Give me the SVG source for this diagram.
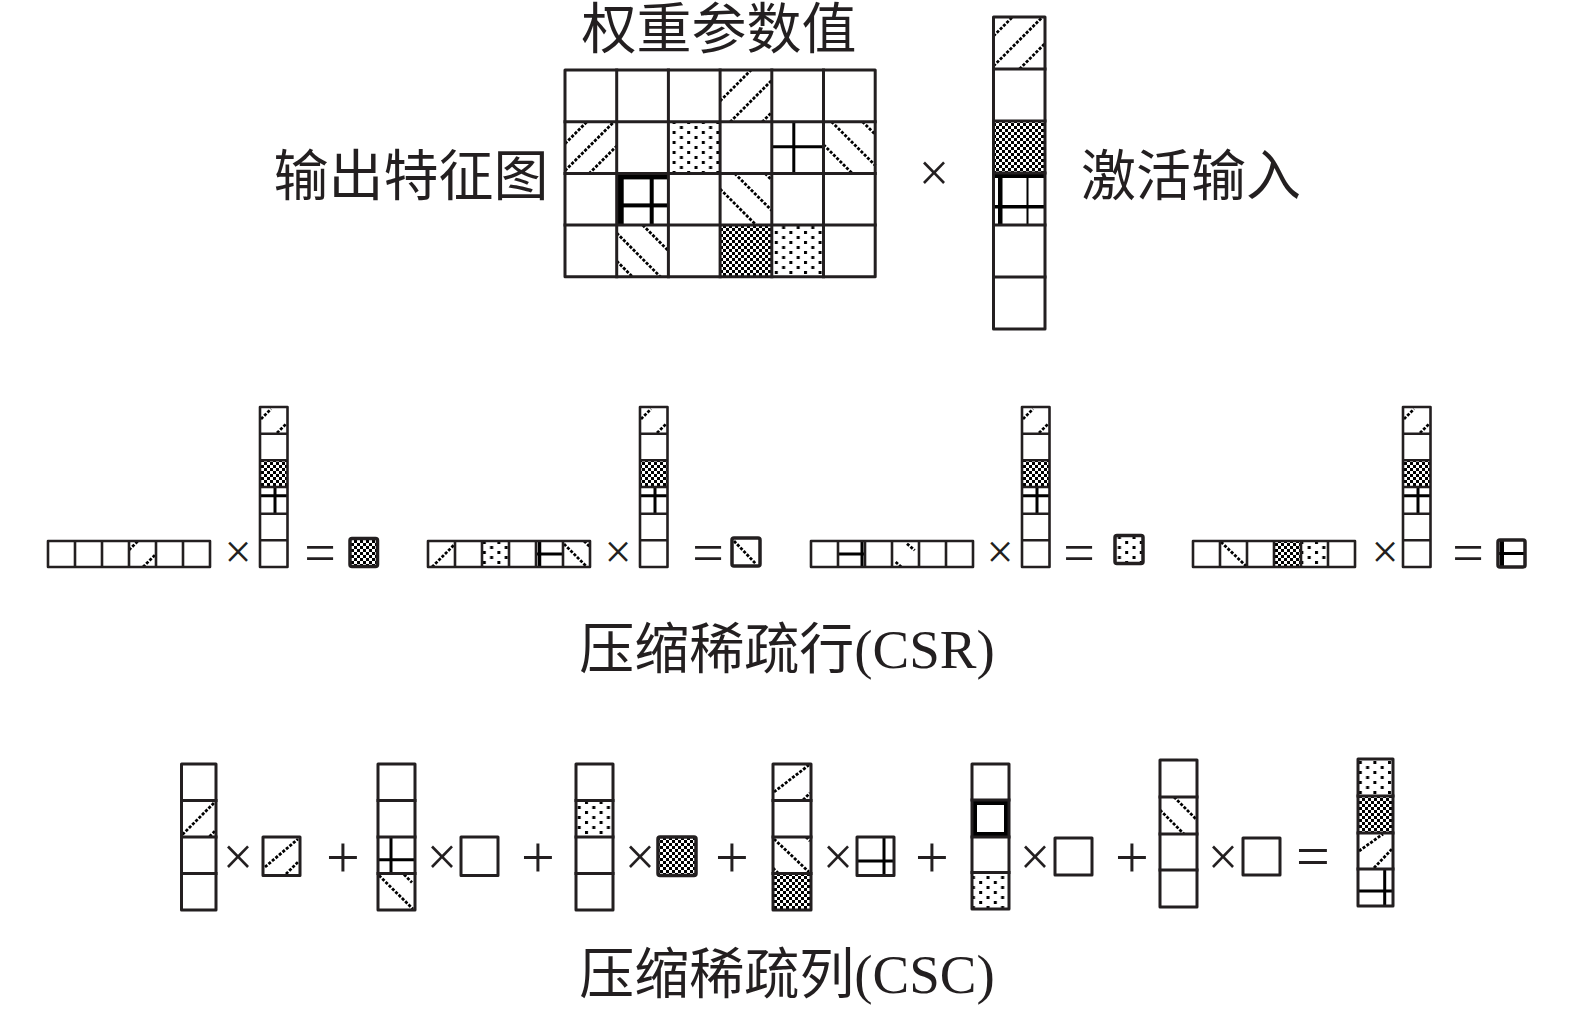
<svg xmlns="http://www.w3.org/2000/svg" width="1575" height="1013" viewBox="0 0 1575 1013">
<defs>
<pattern id="checker" patternUnits="userSpaceOnUse" width="6" height="6"><rect x="0" y="0" width="3" height="3" fill="#000"/><rect x="3" y="3" width="3" height="3" fill="#000"/></pattern>
<pattern id="dots" patternUnits="userSpaceOnUse" width="14.6" height="10"><rect x="1" y="1" width="3" height="3" fill="#000"/><rect x="8.3" y="6" width="3" height="3" fill="#000"/></pattern>
</defs>
<style>
.g{fill:none;stroke:#231f20;stroke-width:3;stroke-linejoin:round;stroke-linecap:square}
.gs{fill:none;stroke:#231f20;stroke-width:2.6;stroke-linejoin:round}
.res{stroke:#231f20;stroke-width:3.5;stroke-linejoin:round}
.h{fill:none;stroke:#000;stroke-width:2.8;stroke-dasharray:3 1.6}
.b{fill:none;stroke:#000;stroke-width:3}
.band{fill:#000}
.lbl{font-family:"Liberation Serif","Noto Sans CJK SC",serif;font-size:55px;fill:#231f20;text-anchor:middle}
.op{font-family:"Liberation Serif",serif;fill:#231f20;text-anchor:middle}
</style>
<rect width="1575" height="1013" fill="#fff"/>

<g id="labels">
<text class="lbl" x="719" y="48">权重参数值</text>
<text class="lbl" x="411" y="195">输出特征图</text>
<text class="lbl" x="1191" y="195">激活输入</text>
<text class="lbl" x="787" y="668">压缩稀疏行(CSR)</text>
<text class="lbl" x="787" y="993">压缩稀疏列(CSC)</text>
</g>

<g id="weight-matrix">
<rect x="668.4" y="121.7" width="51.7" height="51.7" fill="url(#dots)"/>
<rect x="771.8" y="225.1" width="51.7" height="51.7" fill="url(#dots)"/>
<rect x="720.1" y="225.1" width="51.7" height="51.7" fill="url(#checker)"/>
<path class="h" transform="translate(720.1,70)" d="M0,31L31,0M10,52L52,10M42,52L52,42"/>
<path class="h" transform="translate(565,121.7)" d="M0,22L22,0M0,49L49,0M24,52L52,24"/>
<path class="b" transform="translate(771.8,121.7)" d="M22,0V52M0,25H52"/>
<path class="h" transform="translate(823.5,121.7)" d="M0,23L29,52M8,0L52,44M39,0L52,13"/>
<g class="band" transform="translate(616.7,173.4)"><rect x="0" y="0" width="52" height="6"/><rect x="0" y="0" width="7" height="52"/><rect x="33" y="0" width="4" height="52"/><rect x="0" y="30" width="52" height="4"/></g>
<path class="h" transform="translate(720.1,173.4)" d="M0,15.6L36.4,52M14.6,0L52,37.4M45,0L52,7"/>
<path class="h" transform="translate(616.7,225.1)" d="M0,36L16,52M0,8L44,52M26,0L52,26"/>
<rect class="g" x="565" y="70" width="310.2" height="206.8"/>
<path class="g" d="M616.7,70V276.8M668.4,70V276.8M720.1,70V276.8M771.8,70V276.8M823.5,70V276.8M565,121.7H875.2M565,173.4H875.2M565,225.1H875.2"/>
</g>

<g id="activation-input">
<path class="h" transform="translate(993.5,17)" d="M0,19L19,0M0,49L49,0M26,52L52,26"/>
<rect x="993.5" y="121" width="51.5" height="52" fill="url(#checker)"/>
<g class="band"><rect x="993.5" y="173" width="51.5" height="5"/><rect x="998" y="173" width="4.5" height="52"/><rect x="1026.5" y="173" width="2" height="52"/><rect x="993.5" y="205" width="51.5" height="3.5"/></g>
<rect class="g" x="993.5" y="17" width="51.5" height="312"/>
<path class="g" d="M993.5,69H1045M993.5,121H1045M993.5,173H1045M993.5,225H1045M993.5,277H1045"/>
</g>

<g id="operators">
<text class="op" x="934" y="191" font-size="54">×</text>
<text class="op" x="238" y="568" font-size="48">×</text>
<text class="op" x="320" y="572" font-size="56">=</text>
<text class="op" x="618" y="568" font-size="48">×</text>
<text class="op" x="708" y="572" font-size="56">=</text>
<text class="op" x="1000" y="568" font-size="48">×</text>
<text class="op" x="1079" y="572" font-size="56">=</text>
<text class="op" x="1385" y="568" font-size="48">×</text>
<text class="op" x="1468" y="572" font-size="56">=</text>
<text class="op" x="238" y="875" font-size="54">×</text>
<text class="op" x="343" y="877" font-size="60">+</text>
<text class="op" x="442" y="875" font-size="54">×</text>
<text class="op" x="538" y="877" font-size="60">+</text>
<text class="op" x="640" y="875" font-size="54">×</text>
<text class="op" x="732" y="877" font-size="60">+</text>
<text class="op" x="838" y="875" font-size="54">×</text>
<text class="op" x="932" y="877" font-size="60">+</text>
<text class="op" x="1035" y="875" font-size="54">×</text>
<text class="op" x="1132" y="877" font-size="60">+</text>
<text class="op" x="1223" y="875" font-size="54">×</text>
<text class="op" x="1313" y="876" font-size="60">=</text>
</g>

<!-- CSR group 1 -->
<g id="csr-row-1">
<path class="h" d="M129,550L138,541M143,567L156,554"/>
<rect class="gs" x="48" y="541" width="162" height="26"/>
<path class="gs" d="M75,541V567M102,541V567M129,541V567M156,541V567M183,541V567"/>
</g>
<g id="csr-vec-1">
<path class="h" transform="translate(260,407)" d="M1,12L11,2M17,26L26,17"/>
<rect x="260" y="460.3" width="27.5" height="26.7" fill="url(#checker)"/>
<path class="b" d="M260,495.7H287.5M275,487V513.7"/>
<rect class="gs" x="260" y="407" width="27.5" height="160"/>
<path class="gs" d="M260,433.7H287.5M260,460.3H287.5M260,487H287.5M260,513.7H287.5M260,540.3H287.5"/>
</g>
<g id="csr-result-1"><rect class="res" x="350" y="538.5" width="27.5" height="28" rx="2" fill="url(#checker)"/></g>

<!-- CSR group 2 -->
<g id="csr-row-2">
<rect x="482" y="541" width="27" height="26" fill="url(#dots)"/>
<path class="h" d="M432,567L454,545M564,544L587,567M584,541L590,547"/>
<path d="M539.5,541V567" stroke="#000" stroke-width="3.5"/>
<path class="b" d="M536,554H563"/>
<rect class="gs" x="428" y="541" width="162" height="26"/>
<path class="gs" d="M455,541V567M482,541V567M509,541V567M536,541V567M563,541V567"/>
</g>
<g id="csr-vec-2">
<path class="h" transform="translate(640,407)" d="M1,12L11,2M17,26L26,17"/>
<rect x="640" y="460.3" width="27.5" height="26.7" fill="url(#checker)"/>
<path class="b" d="M640,495.7H667.5M655,487V513.7"/>
<rect class="gs" x="640" y="407" width="27.5" height="160"/>
<path class="gs" d="M640,433.7H667.5M640,460.3H667.5M640,487H667.5M640,513.7H667.5M640,540.3H667.5"/>
</g>
<g id="csr-result-2"><path class="h" d="M734,541L756,564"/><rect class="res" x="732" y="538" width="28" height="28" rx="2" fill="none"/></g>

<!-- CSR group 3 -->
<g id="csr-row-3">
<path class="b" d="M838,554H865M862,541V567"/>
<path class="h" d="M907,543.7L914.7,550.3M895.7,562L901.3,567"/>
<rect class="gs" x="811" y="541" width="162" height="26"/>
<path class="gs" d="M838,541V567M865,541V567M892,541V567M919,541V567M946,541V567"/>
</g>
<g id="csr-vec-3">
<path class="h" transform="translate(1022,407)" d="M1,12L11,2M17,26L26,17"/>
<rect x="1022" y="460.3" width="27.5" height="26.7" fill="url(#checker)"/>
<path class="b" d="M1022,495.7H1049.5M1037,487V513.7"/>
<rect class="gs" x="1022" y="407" width="27.5" height="160"/>
<path class="gs" d="M1022,433.7H1049.5M1022,460.3H1049.5M1022,487H1049.5M1022,513.7H1049.5M1022,540.3H1049.5"/>
</g>
<g id="csr-result-3"><rect class="res" x="1115" y="535.5" width="28" height="28" rx="2" fill="url(#dots)"/></g>

<!-- CSR group 4 -->
<g id="csr-row-4">
<rect x="1274" y="541" width="27" height="26" fill="url(#checker)"/>
<rect x="1301" y="541" width="27" height="26" fill="url(#dots)"/>
<path class="h" d="M1221,542L1246,566" stroke-width="3"/>
<rect class="gs" x="1193" y="541" width="162" height="26"/>
<path class="gs" d="M1220,541V567M1247,541V567M1274,541V567M1301,541V567M1328,541V567"/>
</g>
<g id="csr-vec-4">
<path class="h" transform="translate(1403,407)" d="M1,12L11,2M17,26L26,17"/>
<rect x="1403" y="460.3" width="27.5" height="26.7" fill="url(#checker)"/>
<path class="b" d="M1403,495.7H1430.5M1418,487V513.7"/>
<rect class="gs" x="1403" y="407" width="27.5" height="160"/>
<path class="gs" d="M1403,433.7H1430.5M1403,460.3H1430.5M1403,487H1430.5M1403,513.7H1430.5M1403,540.3H1430.5"/>
</g>
<g id="csr-result-4"><path d="M1502,540V567" stroke="#000" stroke-width="4"/><path class="b" d="M1498,553.5H1525"/><rect class="res" x="1498" y="540" width="27" height="27" rx="2" fill="none"/></g>

<!-- CSC -->
<g id="csc-col-1">
<path class="h" transform="translate(181.5,800.5)" d="M1,34L34,1M28,36L34,30"/>
<rect class="g" x="181.5" y="764" width="34.5" height="146"/>
<path class="g" d="M181.5,800.5H216M181.5,837H216M181.5,873.5H216"/>
</g>
<g id="csc-w-1"><path class="h" d="M265,867L298,839M286,874L298,862"/><rect class="g" x="263" y="837" width="37" height="38.5"/></g>

<g id="csc-col-2">
<path class="b" d="M391,837V873.5M378,859.7H415"/>
<path class="h" d="M379,875.5L413,909M404,874.5L412,882.5"/>
<rect class="g" x="378" y="764" width="37" height="146"/>
<path class="g" d="M378,800.5H415M378,837H415M378,873.5H415"/>
</g>
<g id="csc-w-2"><rect class="g" x="461" y="837" width="37" height="38.5"/></g>

<g id="csc-col-3">
<rect x="576" y="800.5" width="37" height="36.5" fill="url(#dots)"/>
<rect class="g" x="576" y="764" width="37" height="146"/>
<path class="g" d="M576,800.5H613M576,837H613M576,873.5H613"/>
</g>
<g id="csc-w-3"><rect class="res" x="658" y="837" width="38" height="38.5" rx="2" fill="url(#checker)"/></g>

<g id="csc-col-4">
<path class="h" transform="translate(773,764)" d="M1,28L36,1M30,36L37,29"/>
<path class="h" transform="translate(773,837)" d="M1,2L36,35M33,0L37,4M0,31L5,36"/>
<rect x="773" y="873.5" width="38" height="36.5" fill="url(#checker)"/>
<rect class="g" x="773" y="764" width="38" height="146"/>
<path class="g" d="M773,800.5H811M773,837H811M773,873.5H811"/>
</g>
<g id="csc-w-4"><path class="b" d="M857,861H894M884,837V875.5"/><rect class="g" x="857" y="837" width="37" height="38.5"/></g>

<g id="csc-col-5">
<rect x="972" y="872.5" width="37" height="36.5" fill="url(#dots)"/>
<rect x="974.5" y="802.5" width="32" height="32" fill="none" stroke="#000" stroke-width="5"/>
<rect class="g" x="972" y="764" width="37" height="145"/>
<path class="g" d="M972,800H1009M972,837H1009M972,872.5H1009"/>
</g>
<g id="csc-w-5"><rect class="g" x="1055" y="838" width="37" height="37"/></g>

<g id="csc-col-6">
<path class="h" transform="translate(1160,797)" d="M0,13L24,37M14,0L37,23"/>
<rect class="g" x="1160" y="760" width="37" height="147"/>
<path class="g" d="M1160,797H1197M1160,834H1197M1160,870H1197"/>
</g>
<g id="csc-w-6"><rect class="g" x="1243" y="838" width="37" height="37"/></g>

<g id="csc-result">
<rect x="1358" y="759" width="35" height="37" fill="url(#dots)"/>
<rect x="1358" y="796" width="35" height="37" fill="url(#checker)"/>
<path class="h" transform="translate(1358,833)" d="M1,18L25,1M16,35L34,16"/>
<path class="b" d="M1384.7,869V906M1358,891H1393"/>
<rect class="g" x="1358" y="759" width="35" height="147"/>
<path class="g" d="M1358,796H1393M1358,833H1393M1358,869H1393"/>
</g>
</svg>
